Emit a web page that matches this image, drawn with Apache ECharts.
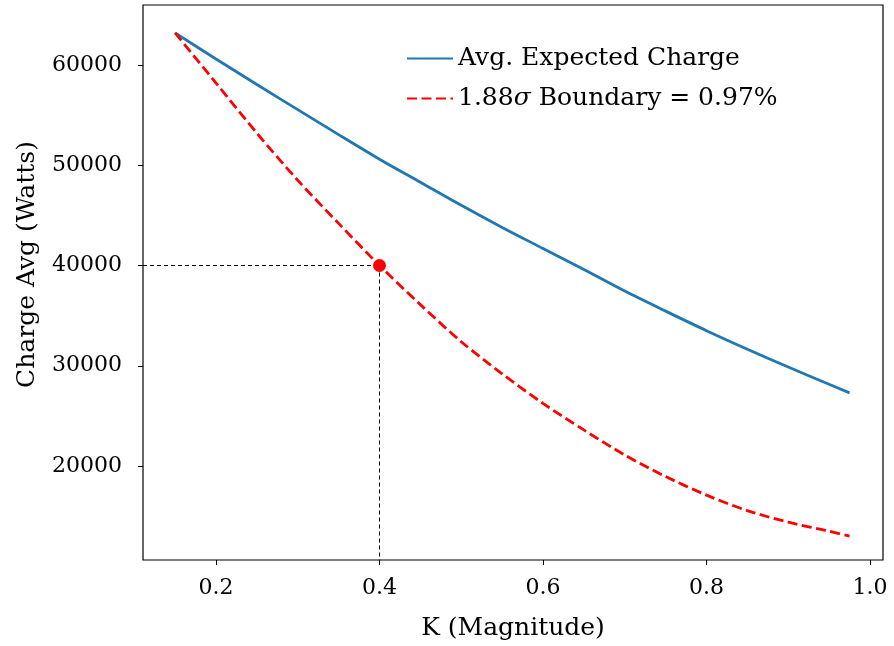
<!DOCTYPE html>
<html>
<head>
<meta charset="utf-8">
<script src="https://cdn.jsdelivr.net/npm/echarts@6/dist/echarts.min.js"></script>
<style>
  html, body { margin: 0; padding: 0; background: #fff; }
  #chart { width: 894px; height: 646px; }
</style>
</head>
<body>
<div id="chart"></div>
<script>
// K values (x)
var kValues = [0.15, 0.2, 0.25, 0.3, 0.35, 0.4, 0.45, 0.5, 0.55, 0.6, 0.65, 0.7, 0.75, 0.8, 0.85, 0.9, 0.95, 0.975];
// average expected charge
var avgCharge = [63200, 60600, 58050, 55550, 53050, 50600, 48300, 46000, 43800, 41700, 39600, 37450, 35450, 33500, 31650, 29870, 28150, 27300];
// 1.88 sigma boundary
var boundary = [63200, 58200, 53200, 48500, 44200, 40000, 36100, 32400, 29200, 26250, 23600, 21100, 18950, 17100, 15550, 14400, 13500, 13000];
// marked point
var markK = 0.4;
var markVal = 40000;
// ticks
var xTicks = [0.2, 0.4, 0.6, 0.8, 1.0];
var yTicks = [20000, 30000, 40000, 50000, 60000];

var xMin = 0.1107, xMax = 1.0159;
var yMin = 10628, yMax = 65982;

var font = 'DejaVu Serif';

function pairs(xs, ys) {
  var out = [];
  for (var i = 0; i < xs.length; i++) out.push([xs[i], ys[i]]);
  return out;
}

var chart = echarts.init(document.getElementById('chart'), null, { renderer: 'canvas' });

var option = {
  animation: false,
  backgroundColor: '#fff',
  grid: {
    left: 143, right: 11, top: 5, bottom: 86,
    show: true, borderColor: '#000', borderWidth: 1.2, backgroundColor: 'transparent'
  },
  legend: {
    orient: 'vertical',
    left: 401, top: 41,
    itemWidth: 46, itemHeight: 14,
    itemGap: 15,
    itemStyle: { opacity: 0 },
    textStyle: {
      fontFamily: font, fontSize: 25, color: '#000',
      rich: { it: { fontFamily: font, fontStyle: 'italic', fontSize: 25, color: '#000' } }
    },
    formatter: function (name) {
      if (name === 'boundary') return '1.88{it|σ} Boundary = 0.97%';
      return name;
    },
    data: ['Avg. Expected Charge', 'boundary']
  },
  xAxis: {
    type: 'value', min: xMin, max: xMax,
    name: 'K (Magnitude)', nameLocation: 'middle', nameGap: 56,
    nameTextStyle: { fontFamily: font, fontSize: 25, color: '#000' },
    splitLine: { show: false },
    axisLine: { show: false },
    axisTick: { show: true, customValues: xTicks, length: 5, lineStyle: { color: '#000' } },
    axisLabel: {
      customValues: xTicks, fontFamily: font, fontSize: 22, color: '#000', margin: 17,
      formatter: function (v) { return v.toFixed(1); }
    }
  },
  yAxis: {
    type: 'value', min: yMin, max: yMax,
    name: 'Charge Avg (Watts)', nameLocation: 'middle', nameGap: 103,
    nameTextStyle: { fontFamily: font, fontSize: 25, color: '#000', padding: [0, 0, 0, 36] },
    splitLine: { show: false },
    axisLine: { show: false },
    axisTick: { show: true, customValues: yTicks, length: 5, lineStyle: { color: '#000' } },
    axisLabel: {
      customValues: yTicks, fontFamily: font, fontSize: 22, color: '#000', margin: 21,
      formatter: function (v) { return String(v); }
    }
  },
  series: [
    {
      name: 'Avg. Expected Charge',
      type: 'line',
      data: pairs(kValues, avgCharge),
      symbol: 'none',
      smooth: 0.3,
      color: '#1f77b4',
      lineStyle: { width: 2.8, color: '#1f77b4' }
    },
    {
      name: 'boundary',
      type: 'line',
      data: pairs(kValues, boundary),
      symbol: 'none',
      smooth: 0.3,
      color: 'red',
      lineStyle: { width: 2.8, type: [10, 4.5], color: 'red' },
      markLine: {
        silent: true,
        symbol: 'none',
        label: { show: false },
        lineStyle: { color: '#000', width: 1, type: [4, 3] },
        data: [
          [{ coord: [xMin, markVal] }, { coord: [markK, markVal] }],
          [{ coord: [markK, markVal] }, { coord: [markK, yMin] }]
        ]
      }
    },
    {
      name: 'point',
      type: 'scatter',
      data: [[markK, markVal]],
      symbol: 'circle',
      symbolSize: 13,
      itemStyle: { color: 'red', opacity: 1 },
      z: 5
    }
  ]
};

chart.setOption(option);
</script>
</body>
</html>
